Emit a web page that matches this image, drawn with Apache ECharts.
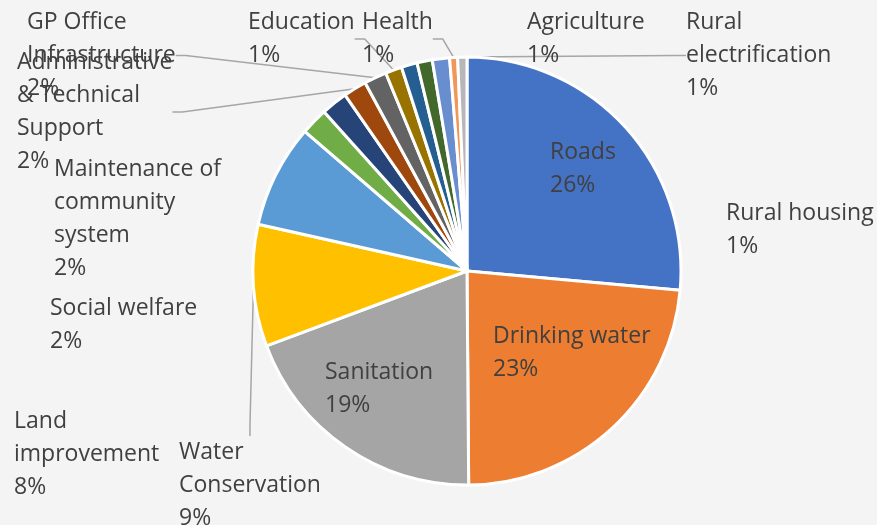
<!DOCTYPE html>
<html><head><meta charset="utf-8">
<script src="https://cdn.jsdelivr.net/npm/echarts@6/dist/echarts.min.js"></script>
<style>html,body{margin:0;padding:0;background:#f4f4f4}#c{width:877px;height:525px}</style>
</head><body><div id="c"></div>
<script>
// Data (clockwise from 12 o'clock)
const categories = ['Roads', 'Drinking water', 'Sanitation', 'Water Conservation', 'Land improvement',
  'Social welfare', 'Maintenance of community system', 'Administrative & Technical Support',
  'GP Office Infrastructure', 'Education', 'Agriculture', 'Rural housing', '', 'Health', 'Rural electrification'];
const values = [26.45, 23.45, 19.45, 9.2, 7.8, 2.05, 2.0, 1.75, 1.7, 1.25, 1.2, 1.15, 1.3, 0.6, 0.7];

// Styling / layout (not data)
const colors = ['#4472C4', '#ED7D31', '#A5A5A5', '#FFC000', '#5B9BD5', '#70AD47', '#264478', '#9E480E',
  '#636363', '#997300', '#255E91', '#43682B', '#698ED0', '#F1975A', '#B7B7B7'];
const wrapText = {
  'Maintenance of community system': 'Maintenance of\ncommunity\nsystem',
  'Administrative & Technical Support': 'Administrative\n& Technical\nSupport',
  'GP Office Infrastructure': 'GP Office\nInfrastructure',
  'Land improvement': 'Land\nimprovement',
  'Water Conservation': 'Water\nConservation',
  'Rural electrification': 'Rural\nelectrification'
};
const withLine = ['Water Conservation', 'Administrative & Technical Support', 'GP Office Infrastructure',
  'Education', 'Health', 'Rural electrification'];
const labelPos = [[550, 136], [493, 320], [325, 356], [179, 436], [14, 405], [50, 292], [54, 153], [17, 46],
  [27, 6], [248, 6], [527, 6], [726, 197], null, [362, 6], [686, 6]];

const chart = echarts.init(document.getElementById('c'), null, {renderer: 'canvas'});
const data = categories.map((name, i) => ({
  name: name,
  value: values[i],
  itemStyle: {color: colors[i]},
  label: {show: name !== ''},
  labelLine: {show: withLine.indexOf(name) >= 0}
}));
chart.setOption({
  backgroundColor: '#f4f4f4',
  animation: false,
  series: [{
    type: 'pie',
    center: [467, 271],
    radius: 214,
    startAngle: 90,
    clockwise: true,
    avoidLabelOverlap: false,
    data: data,
    itemStyle: {borderColor: '#ffffff', borderWidth: 3},
    label: {
      position: 'outside',
      color: '#404040',
      fontFamily: 'Open Sans',
      fontSize: 23,
      lineHeight: 33,
      align: 'left',
      formatter: p => (wrapText[p.name] || p.name) + '\n' + Math.round(p.percent) + '%'
    },
    labelLine: {length: 10, length2: 10, lineStyle: {color: '#a6a6a6', width: 1.5}},
    emphasis: {disabled: true},
    labelLayout: function (params) {
      const pos = labelPos[params.dataIndex];
      if (!pos) return {};
      return {x: pos[0], y: pos[1], align: 'left', verticalAlign: 'top', hideOverlap: false, moveOverlap: null};
    }
  }]
});
</script></body></html>
